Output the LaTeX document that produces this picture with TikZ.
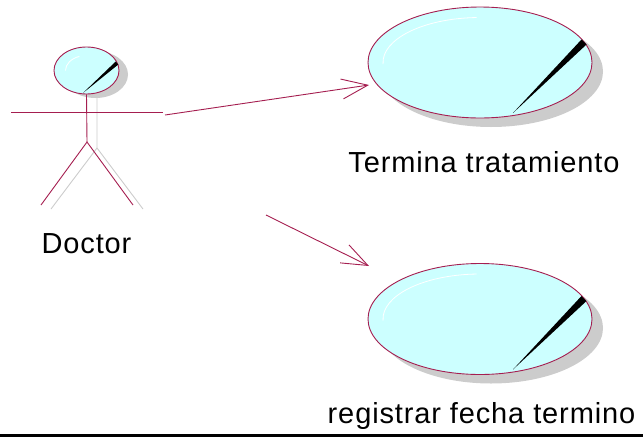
\documentclass[tikz,border=0pt]{standalone}
\usepackage{fontspec}
\setmainfont{Liberation Sans}[LetterSpace=3]
\usetikzlibrary{shapes.geometric,arrows.meta,shadows}
\definecolor{rose}{RGB}{165,30,80}
\definecolor{ucfill}{RGB}{204,255,255}
\definecolor{shadowgray}{RGB}{204,204,204}
\begin{document}
\begin{tikzpicture}[x=1pt,y=-1pt,
  usecase/.style={ellipse, draw=rose, fill=ucfill, line width=0.9pt, inner sep=0pt,
    minimum width=224pt, minimum height=111pt,
    drop shadow={shadow xshift=11pt, shadow yshift=-9pt, opacity=1, fill=shadowgray, draw=none}},
  headshape/.style={ellipse, draw=rose, fill=ucfill, line width=0.9pt, inner sep=0pt,
    minimum width=65pt, minimum height=47pt,
    drop shadow={shadow xshift=9pt, shadow yshift=-4pt, opacity=1, fill=shadowgray, draw=none}},
  limb/.style={draw=rose, line width=0.9pt},
  limbshadow/.style={draw=shadowgray, line width=0.9pt},
  assoc/.style={draw=rose, line width=0.9pt, -{Straight Barb[length=26pt,width=20pt,line width=0.9pt]}},
  needle/.style={fill=black},
  gloss/.style={draw=white, line width=0.8pt},
  label/.style={font=\fontsize{29}{34}\selectfont, anchor=base, inner sep=0pt}]
\useasboundingbox (0,0) rectangle (643,437);

% use cases
\node[usecase] (uc1) at (480,62.5) {};
\node[usecase] (uc2) at (480,319) {};
\foreach \u in {uc1,uc2}{
  \fill[needle] ([shift={(33,50.5)}]\u.center) -- ([shift={(101.5,-23)}]\u.center) -- ([shift={(106.5,-18)}]\u.center) -- cycle;
  \draw[gloss] ([shift={(178:97 and 45)}]\u.center) arc[start angle=178, end angle=268, x radius=97, y radius=45];
}
\node[label] (t1) at (484,172) {Termina tratamiento};
\node[label] (t2) at (481.5,423) {registrar fecha termino};

% actor shadow
\draw[limbshadow] (97,96) -- (97,148) -- (51,209);
\draw[limbshadow] (97,148) -- (143,209);

% actor
\node[headshape] (head) at (86.5,70.5) {};
\fill[needle] ([shift={(-3.5,22.5)}]head.center) -- ([shift={(29.2,-9)}]head.center) -- ([shift={(31.8,-6)}]head.center) -- cycle;
\draw[gloss] ([shift={(180:21 and 15)}]head.center) arc[start angle=180, end angle=250, x radius=21, y radius=15];
\coordinate (hip) at (87,142);
\coordinate (lhand) at (11,112);
\coordinate (rhand) at (163,112);
\coordinate (lfoot) at (41,205);
\coordinate (rfoot) at (133,205);
\draw[limb] (head.south) -- (hip);
\draw[limb] (lhand) -- (rhand);
\draw[limb] (lfoot) -- (hip) -- (rfoot);
\node[label] (doctor) at (86.5,253) {Doctor};

% associations
\coordinate (a1s) at (165,115);
\coordinate (a1e) at (369,85);
\coordinate (a2s) at (266,215);
\coordinate (a2e) at (369,266);
\draw[assoc] (a1s) -- (a1e);
\draw[assoc] (a2s) -- (a2e);

% bottom rule
\draw[line width=3.5pt] (0,435.25) -- (643,435.25);
\end{tikzpicture}
\end{document}
